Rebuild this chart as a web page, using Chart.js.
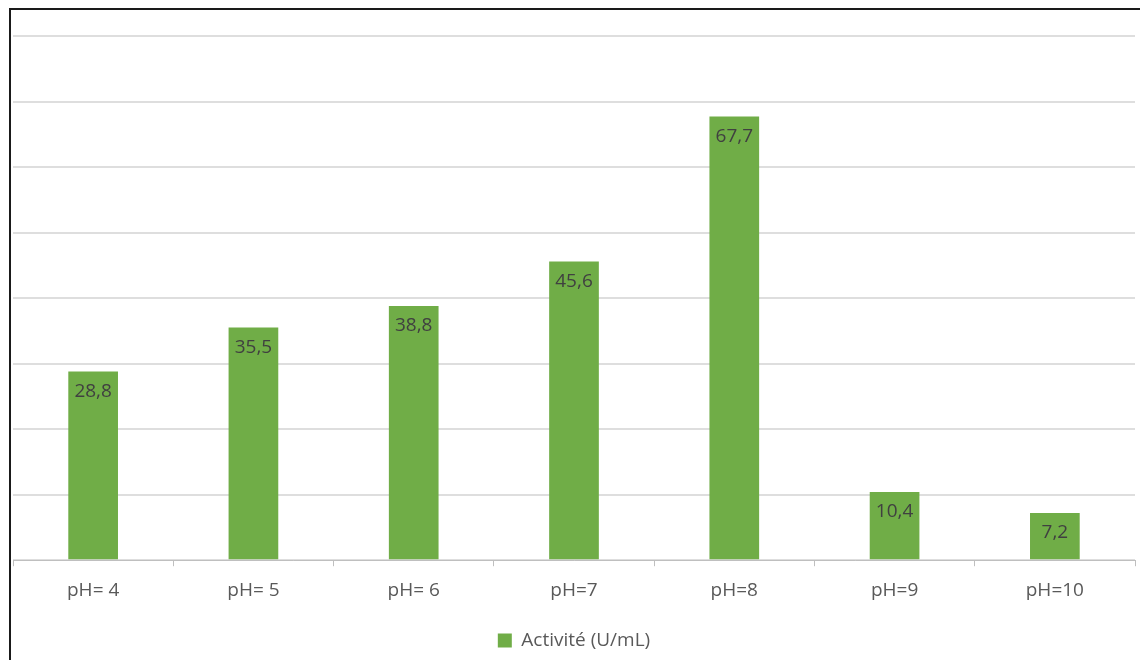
<!DOCTYPE html>
<html>
<head>
<meta charset="utf-8">
<script src="https://cdn.jsdelivr.net/npm/chart.js@4"></script>
<style>
  html, body { margin: 0; padding: 0; background: #fff; overflow: hidden; }
  #wrap { position: relative; width: 1140px; height: 660px; }
  #frame {
    position: absolute; left: 9px; top: 8px; width: 1200px; height: 700px;
    border-left: 2px solid #1a1a1a; border-top: 2px solid #1a1a1a;
    pointer-events: none;
  }
</style>
</head>
<body>
<div id="wrap">
  <canvas id="myChart" width="1140" height="660"></canvas>
  <div id="frame"></div>
</div>
<script>
const categories = ['pH= 4', 'pH= 5', 'pH= 6', 'pH=7', 'pH=8', 'pH=9', 'pH=10'];
const activite = [28.8, 35.5, 38.8, 45.6, 67.7, 10.4, 7.2];
const seriesName = 'Activité (U/mL)';

const FONT = "'Open Sans', 'DejaVu Sans', sans-serif";

// values written inside the top of each bar, French decimal comma
const barValues = {
  id: 'barValues',
  afterDatasetsDraw(chart) {
    const ctx = chart.ctx;
    ctx.save();
    ctx.font = `19px ${FONT}`;
    ctx.fillStyle = '#404040';
    ctx.textAlign = 'center';
    ctx.textBaseline = 'middle';
    chart.getDatasetMeta(0).data.forEach((bar, i) => {
      const txt = activite[i].toFixed(1).replace('.', ',');
      ctx.fillText(txt, bar.x, bar.y + 20);
    });
    ctx.restore();
  }
};

new Chart(document.getElementById('myChart'), {
  type: 'bar',
  data: {
    labels: categories,
    datasets: [{
      label: seriesName,
      data: activite,
      backgroundColor: '#70ad47',
      borderWidth: 0,
      categoryPercentage: 1,
      barPercentage: 0.31
    }]
  },
  options: {
    responsive: false,
    animation: false,
    layout: { padding: { left: 13, right: 5, top: 36, bottom: 0 } },
    plugins: {
      legend: {
        position: 'bottom',
        labels: {
          color: '#595959',
          font: { family: FONT, size: 19 },
          boxWidth: 14,
          boxHeight: 14,
          padding: 7
        }
      },
      tooltip: { enabled: false }
    },
    scales: {
      x: {
        // extra room between the category labels and the legend
        afterFit(scale) { scale.height += 9; },
        grid: {
          offset: true,
          drawOnChartArea: false,
          color: '#bfbfbf',
          tickLength: 6
        },
        border: { color: '#bfbfbf', width: 1 },
        ticks: {
          color: '#595959',
          font: { family: FONT, size: 19 },
          padding: 13
        }
      },
      y: {
        min: 0,
        max: 80,
        ticks: { stepSize: 10, display: false },
        grid: { color: '#dedede', lineWidth: 2, drawTicks: false },
        border: { display: false }
      }
    }
  },
  plugins: [barValues]
});
</script>
</body>
</html>
